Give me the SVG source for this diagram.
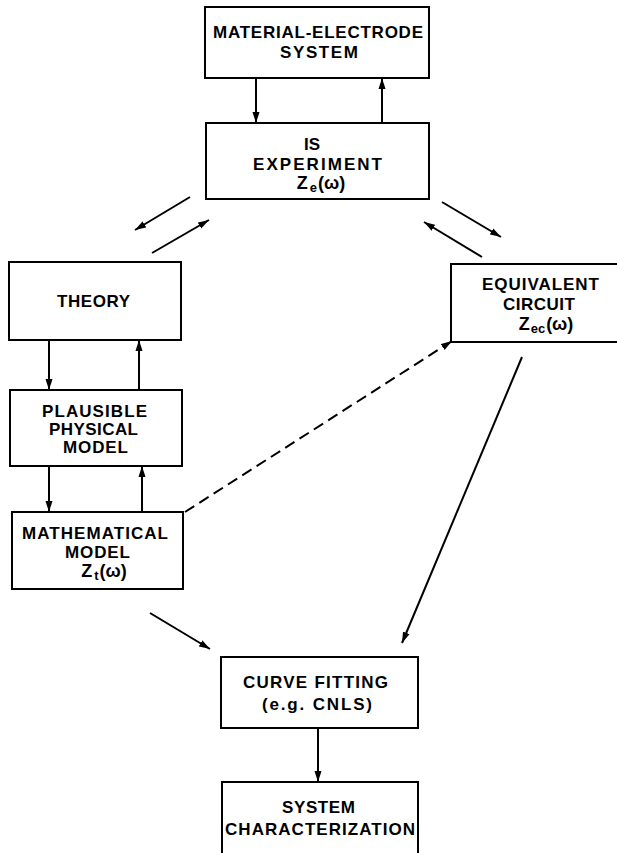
<svg xmlns="http://www.w3.org/2000/svg" width="617" height="853" viewBox="0 0 617 853">
<style>
.box{fill:#fff;stroke:#000;stroke-width:2}
.t{font-family:"Liberation Sans",Arial,sans-serif;font-size:17px;font-weight:bold;fill:#000;text-anchor:middle}
.z{font-size:18px}
.sub{font-size:13px}
.c{stroke:#000;stroke-width:2;fill:none;marker-end:url(#ah)}
.d{stroke-dasharray:11 6}
</style>
<defs>
<marker id="ah" markerUnits="userSpaceOnUse" markerWidth="12" markerHeight="8" refX="11" refY="4" orient="auto">
<path d="M0,0.5 L11,4 L0,7.5 z" fill="#000"/>
</marker>
</defs>
<rect width="617" height="853" fill="#fff"/>
<g id="material">
<rect class="box" x="205" y="7" width="224" height="71"/>
<text class="t" x="318" y="38" textLength="210" lengthAdjust="spacing">MATERIAL-ELECTRODE</text>
<text class="t" x="319" y="58" textLength="78" lengthAdjust="spacing">SYSTEM</text>
</g>
<g id="experiment">
<rect class="box" x="206" y="123" width="223" height="76"/>
<text class="t" x="312" y="150">IS</text>
<text class="t" x="317.5" y="170" textLength="129" lengthAdjust="spacing">EXPERIMENT</text>
<text class="t z" x="321" y="189">Z<tspan class="sub" dx="2" dy="3">e</tspan><tspan dx="1" dy="-3">(ω)</tspan></text>
</g>
<g id="theory">
<rect class="box" x="9" y="262" width="172" height="78"/>
<text class="t" x="93.5" y="307" textLength="73" lengthAdjust="spacing">THEORY</text>
</g>
<g id="plausible">
<rect class="box" x="10" y="390" width="172" height="76"/>
<text class="t" x="94.5" y="417" textLength="105" lengthAdjust="spacing">PLAUSIBLE</text>
<text class="t" x="93.5" y="435" textLength="89" lengthAdjust="spacing">PHYSICAL</text>
<text class="t" x="95.5" y="453" textLength="65" lengthAdjust="spacing">MODEL</text>
</g>
<g id="mathematical">
<rect class="box" x="12" y="512" width="171" height="77"/>
<text class="t" x="95" y="539" textLength="146" lengthAdjust="spacing">MATHEMATICAL</text>
<text class="t" x="97.5" y="558" textLength="65" lengthAdjust="spacing">MODEL</text>
<text class="t z" x="104" y="577">Z<tspan class="sub" dx="2" dy="3">t</tspan><tspan dx="1" dy="-3">(ω)</tspan></text>
</g>
<g id="equivalent">
<rect class="box" x="451" y="264" width="180" height="78"/>
<text class="t" x="540.5" y="290" textLength="117" lengthAdjust="spacing">EQUIVALENT</text>
<text class="t" x="539" y="310" textLength="72" lengthAdjust="spacing">CIRCUIT</text>
<text class="t z" x="546" y="330">Z<tspan class="sub" dx="1" dy="3">ec</tspan><tspan dx="1" dy="-3">(ω)</tspan></text>
</g>
<g id="curvefitting">
<rect class="box" x="221" y="657" width="197" height="71"/>
<text class="t" x="315.5" y="688" textLength="145" lengthAdjust="spacing">CURVE FITTING</text>
<text class="t" x="317" y="710" textLength="110" lengthAdjust="spacing">(e.g. CNLS)</text>
</g>
<g id="characterization">
<rect class="box" x="222" y="782" width="196" height="80"/>
<text class="t" x="318.5" y="813" textLength="73" lengthAdjust="spacing">SYSTEM</text>
<text class="t" x="320" y="835" textLength="190" lengthAdjust="spacing">CHARACTERIZATION</text>
</g>
<g id="connectors">
<line class="c" x1="256" y1="78" x2="256" y2="123"/>
<line class="c" x1="382" y1="123" x2="382" y2="78"/>
<line class="c" x1="190" y1="197" x2="135" y2="230"/>
<line class="c" x1="152" y1="253" x2="209" y2="220"/>
<line class="c" x1="442" y1="202" x2="501" y2="237"/>
<line class="c" x1="482" y1="257" x2="424" y2="222"/>
<line class="c" x1="49" y1="340" x2="49" y2="390"/>
<line class="c" x1="139" y1="390" x2="139" y2="340"/>
<line class="c" x1="49" y1="466" x2="49" y2="512"/>
<line class="c" x1="142" y1="512" x2="142" y2="466"/>
<line class="c d" x1="185" y1="512" x2="452" y2="341"/>
<line class="c" x1="150" y1="613" x2="210" y2="649"/>
<line class="c" x1="522" y1="357" x2="402" y2="643"/>
<line class="c" x1="318" y1="728" x2="318" y2="782"/>
</g>
</svg>
